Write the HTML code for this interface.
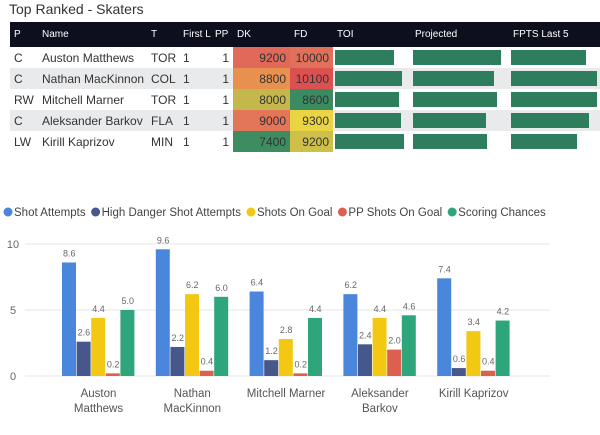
<!DOCTYPE html>
<html><head><meta charset="utf-8">
<style>
body{margin:0;width:600px;height:435px;background:#fff;font-family:"Liberation Sans",sans-serif;overflow:hidden;position:relative}
.title{position:absolute;left:9px;top:1px;font-size:14px;color:#333}
table{position:absolute;left:10px;top:22px;border-collapse:collapse;table-layout:fixed;width:590px;font-size:11px;color:#333}
th{background:#0d0f1f;color:#fff;font-weight:normal;text-align:left;height:25px;padding:0 4px;font-size:10px;white-space:nowrap;overflow:hidden}
td{height:21px;padding:0 4px;white-space:nowrap;font-size:12px;overflow:hidden}
tr.alt td{background:#e9eaec}
td.num{text-align:right}
.bar{height:15px;background:#2e7d5c}
</style></head><body>
<div class="title">Top Ranked - Skaters</div>
<table>
<colgroup><col style="width:28px"><col style="width:109px"><col style="width:32px"><col style="width:34px"><col style="width:20px"><col style="width:57px"><col style="width:43px"><col style="width:78px"><col style="width:98px"><col style="width:91px"></colgroup>
<tr><th>P</th><th>Name</th><th>T</th><th>First L</th><th style="padding:0 2px">PP</th><th>DK</th><th>FD</th><th>TOI</th><th>Projected</th><th>FPTS Last 5</th></tr>
<tbody id="tb"></tbody>
</table>
<svg id="chart" width="600" height="435" style="position:absolute;left:0;top:0"></svg>
<script>
const rows=[["C","Auston Matthews","TOR",9200,"#e0695a",10000,"#e0705a",59,88,75],
["C","Nathan MacKinnon","COL",8800,"#e8914e",10100,"#dc5050",67,81,86],
["RW","Mitchell Marner","TOR",8000,"#c4b84c",8600,"#3a8a62",64,84,86],
["C","Aleksander Barkov","FLA",9000,"#e37558",9300,"#ead443",66,73,78],
["LW","Kirill Kaprizov","MIN",7400,"#3d8d61",9200,"#cdbf48",69,74,66]];
const tb=document.getElementById('tb');
rows.forEach((r,i)=>{const tr=document.createElement('tr');


if(i%2)tr.className='alt';
tr.innerHTML=`<td>${r[0]}</td><td>${r[1]}</td><td>${r[2]}</td><td>1</td><td class="num">1</td><td class="num" style="background:${r[4]}">${r[3]}</td><td class="num" style="background:${r[6]}">${r[5]}</td><td style="padding:0 2px"><div class="bar" style="width:${r[7]}px"></div></td><td style="padding:0 2px"><div class="bar" style="width:${r[8]}px"></div></td><td style="padding:0 2px"><div class="bar" style="width:${r[9]}px"></div></td>`;
tb.appendChild(tr);});

const categories=[["Auston","Matthews"],["Nathan","MacKinnon"],["Mitchell Marner"],["Aleksander","Barkov"],["Kirill Kaprizov"]];
const seriesNames=["Shot Attempts","High Danger Shot Attempts","Shots On Goal","PP Shots On Goal","Scoring Chances"];
const colors=["#4a86dc","#46578c","#f2c812","#dd5f50","#2fa57c"];
const shotAttempts=[8.6,9.6,6.4,6.2,7.4];
const highDanger=[2.6,2.2,1.2,2.4,0.6];
const shotsOnGoal=[4.4,6.2,2.8,4.4,3.4];
const ppShots=[0.2,0.4,0.2,2.0,0.4];
const scoringChances=[5.0,6.0,4.4,4.6,4.2];
const yTicks=[0,5,10];
const series=[shotAttempts,highDanger,shotsOnGoal,ppShots,scoringChances];
const svg=document.getElementById('chart'),NS="http://www.w3.org/2000/svg";
const y=v=>376-v*13.2, gx=i=>62+i*93.8, bw=14.6;
function mk(t,a,txt){const e=document.createElementNS(NS,t);for(const k in a)e.setAttribute(k,a[k]);if(txt!=null)e.textContent=txt;svg.appendChild(e);return e;}
let lx=3;
seriesNames.forEach((n,i)=>{const c=mk('circle',{cx:lx+5,cy:212,r:4.5,fill:colors[i]});


const t=mk('text',{x:lx+11,y:216,'font-size':11.5,fill:'#444'},n);


lx+=11+t.getComputedTextLength()+5;});
yTicks.forEach(v=>{const l=mk('line',{x1:25,x2:550,y1:y(v),y2:y(v),stroke:'#e6e6e6'});


const t=mk('text',{x:13,y:y(v)+4,'font-size':11,fill:'#666','text-anchor':'middle'},v);

});
categories.forEach((c,i)=>{series.forEach((s,j)=>{const x=gx(i)+j*bw,v=s[i];
const r=mk('rect',{x:x,y:y(v),width:bw-0.6,height:376-y(v),fill:colors[j]});


const t=mk('text',{x:x+bw/2,y:y(v)-6,'font-size':9,fill:'#666','text-anchor':'middle'},v.toFixed(1));

});
c.forEach((ln,k)=>{const t=mk('text',{x:gx(i)+bw*2.5,y:397+k*15,'font-size':11.5,fill:'#555','text-anchor':'middle'},ln);

});});
</script>
</body></html>
